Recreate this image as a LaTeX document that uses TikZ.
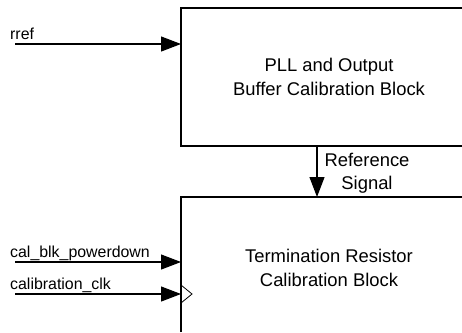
\documentclass[tikz,border=0pt]{standalone}
\usepackage{fontspec}
\setmainfont{Liberation Sans}
\usetikzlibrary{arrows.meta}
\begin{document}
\begin{tikzpicture}[x=1pt,y=-1pt,
  wire/.style={line width=1.1pt,-{Triangle[length=20pt,width=15pt]}},
  edge/.style={line width=1.1pt},
  blocktext/.style={align=center,inner sep=0pt,font=\fontsize{18.4}{23.5}\selectfont},
  sig/.style={anchor=base west,inner sep=0pt,font=\fontsize{15.9}{19}\selectfont}]
\useasboundingbox (0,0) rectangle (462,332);
% top block
\coordinate (t1) at (181,146);
\coordinate (t2) at (181,8);
\coordinate (t3) at (462,8);
\coordinate (t4) at (462,146);
\draw[edge] (t4) -- (t1) -- (t2) -- (t3);
\node[blocktext] (pll) at (329,77) {PLL and Output\\Buffer Calibration Block};
% bottom block
\coordinate (b1) at (181,332);
\coordinate (b2) at (181,197);
\coordinate (b3) at (462,197);
\draw[edge] (b1) -- (b2) -- (b3);
\node[blocktext] (trc) at (329,268) {Termination Resistor\\Calibration Block};
% reference signal
\coordinate (rs) at (317,146);
\coordinate (re) at (317,197);
\draw[wire] (rs) -- (re);
\node[blocktext] (reflbl) at (367,173) {Reference\\Signal};
% inputs
\coordinate (r0) at (15,44);
\coordinate (r1) at (181,44);
\draw[wire] (r0) -- (r1);
\node[sig] (rref) at (10,39) {rref};
\coordinate (p0) at (15,262);
\coordinate (p1) at (181,262);
\draw[wire] (p0) -- (p1);
\node[sig] (pd) at (10,257) {cal\_blk\_powerdown};
\coordinate (c0) at (15,294);
\coordinate (c1) at (181,294);
\draw[wire] (c0) -- (c1);
\node[sig] (clk) at (10,289) {calibration\_clk};
% clock marker
\coordinate (k1) at (181,285);
\coordinate (k2) at (192,294);
\coordinate (k3) at (181,303);
\draw[line width=0.8pt] (k1) -- (k2) -- (k3);
\end{tikzpicture}
\end{document}
